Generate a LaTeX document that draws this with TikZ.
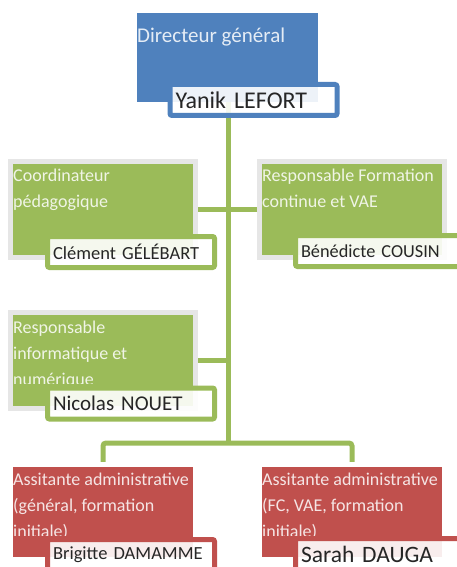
\documentclass[tikz,border=0pt]{standalone}
\usepackage{fontspec}
\setmainfont{Carlito}
\definecolor{cblue}{HTML}{4F81BD}
\definecolor{cgreen}{HTML}{9BBB59}
\definecolor{cred}{HTML}{C0504D}
\definecolor{cgray}{HTML}{E6E6E6}
\definecolor{cname}{HTML}{262626}
\begin{document}
\begin{tikzpicture}[x=1pt,y=-1pt,
  gbox/.style={rectangle, draw=cgray, line width=5pt, fill=cgreen, minimum width=185pt, minimum height=96pt, inner sep=0pt},
  rbox/.style={rectangle, fill=cred, minimum width=180pt, minimum height=90pt, inner sep=0pt},
  bbox/.style={rectangle, fill=cblue, minimum width=181pt, minimum height=89pt, inner sep=0pt},
  title/.style={anchor=base west, inner sep=0pt, text=white, text opacity=0.85, align=left, font=\fontsize{18}{26}\selectfont},
  namebox/.style={rectangle, draw=#1, line width=5pt, fill=white, fill opacity=0.9, text opacity=1, text=cname, rounded corners=2pt, inner xsep=5.5pt, inner ysep=0pt, text width=156pt, minimum height=31pt, align=left},
  conn/.style={draw=cgreen, line width=5pt}
]
\useasboundingbox (0,0) rectangle (456,567);

% boxes
\node[bbox] (dg) at (227.5,57.5) {};
\node[gbox] (coord) at (103,209.5) {};
\node[gbox] (fc) at (352,209.5) {};
\node[gbox] (info) at (103,360) {};
\node[rbox] (asg) at (103,512) {};
\node[rbox] (asfc) at (352,512) {};

% connectors
\coordinate (hub) at (228,443);
\draw[conn] (dg.south -| hub) -- (hub);
\draw[conn] (coord.east) -- (coord.east -| hub);
\draw[conn] (fc.west) -- (fc.west -| hub);
\draw[conn] (info.east) -- (info.east -| hub);
\draw[conn, rounded corners=3pt] ([yshift=5pt]asg.north) |- (hub) -| ([yshift=5pt]asfc.north);

% titles (anchor = baseline of last line)
\node[title, font=\fontsize{21}{24}\selectfont] (dgt) at (137,43) {Directeur général};
\node[title] (coordt) at (13,207) {Coordinateur\\pédagogique};
\node[title] (fct) at (262,207) {Responsable Formation\\continue et VAE};
\begin{scope}
  \clip (13,315) rectangle (193,383);
  \node[title] (infot) at (13,385) {Responsable\\informatique et\\numérique};
\end{scope}
\begin{scope}
  \clip (13,467) rectangle (193,535);
  \node[title] (asgt) at (13,537) {Assitante administrative\\(général, formation\\initiale)};
\end{scope}
\begin{scope}
  \clip (262,467) rectangle (442,535);
  \node[title] (asfct) at (262,537) {Assitante administrative\\(FC, VAE, formation\\initiale)};
\end{scope}

% name boxes
\node[namebox=cblue, font=\fontsize{24}{28}\selectfont] (dgn) at (253.5,100) {Yanik LEFORT};
\node[namebox=cgreen, font=\fontsize{18.5}{22}\selectfont] (coordn) at (131,252) {Clément GÉLÉBART};
\node[namebox=cgreen, font=\fontsize{18.3}{22}\selectfont] (fcn) at (379,251) {Bénédicte COUSIN};
\node[namebox=cgreen, font=\fontsize{21}{25}\selectfont] (infon) at (131,403.5) {Nicolas NOUET};
\node[namebox=cred, font=\fontsize{18.5}{22}\selectfont] (asgn) at (131,555) {Brigitte DAMAMME};
\node[namebox=cred, font=\fontsize{23.5}{27}\selectfont] (asfcn) at (379,554) {Sarah DAUGA};
\end{tikzpicture}
\end{document}
